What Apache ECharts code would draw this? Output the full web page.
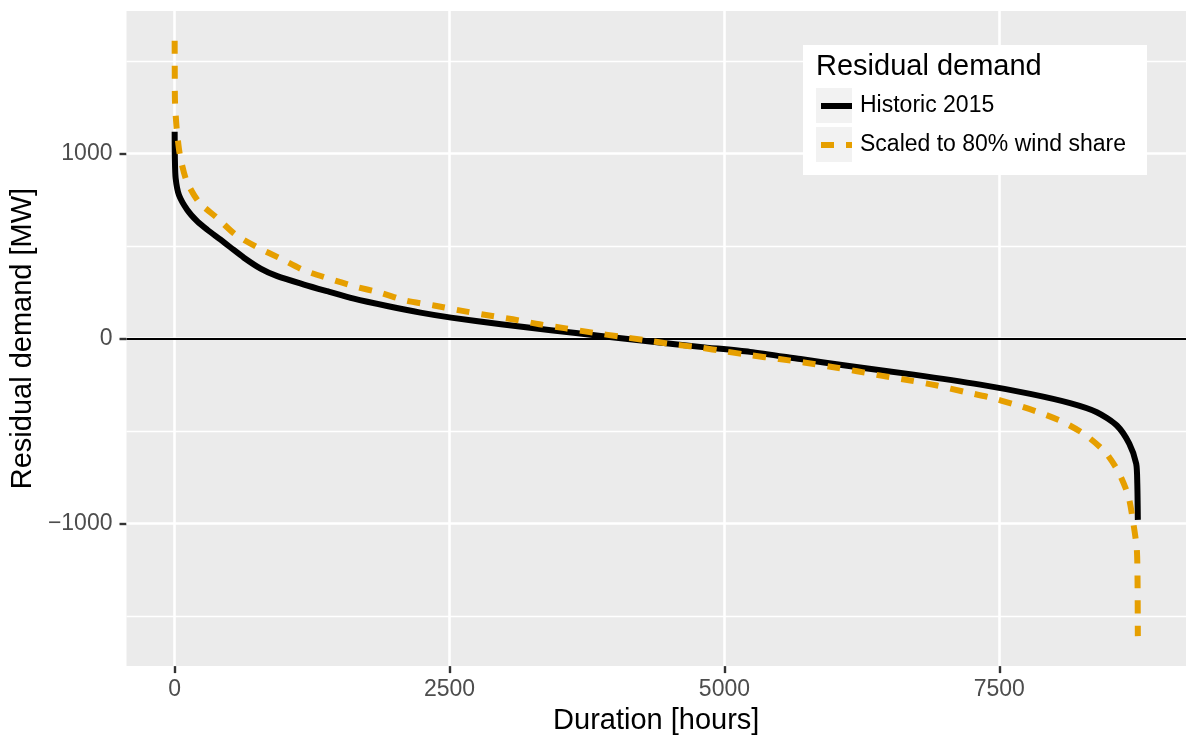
<!DOCTYPE html>
<html>
<head>
<meta charset="utf-8">
<script src="https://cdn.jsdelivr.net/npm/echarts@6.0.0/dist/echarts.min.js"></script>
<style>
  html, body { margin: 0; padding: 0; background: #fff; }
  #chart { width: 1186px; height: 740px; }
</style>
</head>
<body>
<div id="chart"></div>
<script>
// duration curves, values
const historicHours = [0, 2, 9, 39, 115, 206, 297, 418, 509, 630, 782, 933, 1176, 1388, 1630, 1933, 2236, 2514, 2968, 3422, 3876, 4325, 4779, 5233, 5692, 6117, 6722, 7327, 7781, 8144, 8387, 8569, 8682, 8745, 8755, 8760];
const historicMW = [1118, 973, 866, 776, 695, 633, 588, 534, 492, 437, 378, 337, 292, 256, 216, 176, 140, 113, 77, 45, 14, -16, -45, -72, -111, -147, -195, -249, -299, -349, -398, -470, -568, -676, -783, -980];

const scaledHours = [0, 1, 3, 18, 48, 109, 221, 388, 555, 752, 964, 1176, 1403, 1630, 1873, 2105, 2358, 2591, 2832, 3076, 3318, 3558, 3802, 4044, 4285, 4527, 4771, 5011, 5238, 5497, 5723, 5965, 6207, 6449, 6692, 6934, 7176, 7403, 7645, 7872, 8084, 8281, 8462, 8583, 8674, 8719, 8750, 8757, 8760];
const scaledMW = [1609, 1430, 1281, 1138, 991, 851, 737, 651, 561, 493, 432, 369, 324, 283, 247, 205, 179, 152, 127, 104, 77, 55, 32, 11, -9, -31, -48, -70, -90, -111, -129, -152, -177, -203, -227, -254, -287, -317, -357, -401, -452, -520, -613, -720, -851, -998, -1133, -1285, -1608];

const seriesNames = ['Historic 2015', 'Scaled to 80% wind share'];
const xTicks = [0, 2500, 5000, 7500];
const yTicks = [-1000, 0, 1000];
const yMinorLines = [-1500, -500, 500, 1500];

const zip = (xs, ys) => xs.map((x, i) => [x, ys[i]]);
const font = 'Liberation Sans, Arial, Helvetica, sans-serif';

const blackStyle = { color: '#000', width: 6, type: 'solid', cap: 'butt', join: 'round' };
const orangeStyle = { color: '#E69F00', width: 6, type: [13, 12], cap: 'butt', join: 'round' };

const chart = echarts.init(document.getElementById('chart'));

const gridLines = [].concat(
  xTicks.map(v => ({ xAxis: v, lineStyle: { color: '#fff', width: 2.6, type: 'solid' } })),
  yTicks.map(v => ({ yAxis: v, lineStyle: { color: '#fff', width: 2.6, type: 'solid' } })),
  yMinorLines.map(v => ({ yAxis: v, lineStyle: { color: '#fff', width: 1.3, type: 'solid' } })),
  [{ yAxis: 0, lineStyle: { color: '#000', width: 2, type: 'solid' } }]
);

const option = {
  animation: false,
  grid: {
    left: 125, right: 0, top: 11, bottom: 70,
    show: true, backgroundColor: '#EBEBEB', borderWidth: 0
  },
  xAxis: {
    type: 'value', min: -438, max: 9198,
    name: 'Duration [hours]', nameLocation: 'middle', nameGap: 35,
    nameTextStyle: { fontFamily: font, fontSize: 29, color: '#000' },
    axisLine: { show: false, onZero: false },
    axisTick: { show: true, customValues: xTicks, length: 7, lineStyle: { color: '#333', width: 2.4 } },
    axisLabel: {
      customValues: xTicks, margin: 12, fontFamily: font, fontSize: 23, color: '#4D4D4D',
      formatter: v => String(v)
    },
    splitLine: { show: false }
  },
  yAxis: {
    type: 'value', min: -1770, max: 1770,
    name: 'Residual demand [MW]', nameLocation: 'middle', nameGap: 88,
    nameTextStyle: { fontFamily: font, fontSize: 29, color: '#000' },
    axisLine: { show: false, onZero: false },
    axisTick: { show: true, customValues: yTicks, length: 7, lineStyle: { color: '#333', width: 2.4 } },
    axisLabel: {
      customValues: yTicks, margin: 14, fontFamily: font, fontSize: 23, color: '#4D4D4D',
      formatter: v => (v < 0 ? '\u2212' + Math.abs(v) : String(v))
    },
    splitLine: { show: false }
  },
  legend: {
    data: [
      { name: seriesNames[0], itemStyle: { opacity: 0 }, lineStyle: blackStyle },
      { name: seriesNames[1], itemStyle: { opacity: 0 }, lineStyle: orangeStyle }
    ],
    orient: 'vertical',
    left: 818, top: 94,
    padding: 0,
    itemWidth: 31, itemHeight: 24, itemGap: 15,
    selectedMode: false,
    z: 20,
    textStyle: { fontFamily: font, fontSize: 23, color: '#000', lineHeight: 24, padding: [0, 0, 0, 3] }
  },
  graphic: [
    { type: 'rect', z: 10, silent: true, shape: { x: 803, y: 45, width: 344, height: 130 }, style: { fill: '#fff' } },
    { type: 'rect', z: 11, silent: true, shape: { x: 816, y: 88, width: 36, height: 35 }, style: { fill: '#F2F2F2' } },
    { type: 'rect', z: 11, silent: true, shape: { x: 816, y: 127, width: 36, height: 35 }, style: { fill: '#F2F2F2' } },
    { type: 'text', z: 11, silent: true, style: { text: 'Residual demand', x: 816, y: 67, verticalAlign: 'middle', fontFamily: font, fontSize: 29, fill: '#000' } }
  ],
  series: [
    {
      name: seriesNames[0], type: 'line', symbol: 'none', silent: true,
      smooth: 0.25,
      data: zip(historicHours, historicMW),
      lineStyle: blackStyle,
      itemStyle: { color: '#000' },
      markLine: {
        z: 1, silent: true, symbol: ['none', 'none'], label: { show: false },
        emphasis: { disabled: true }, animation: false,
        data: gridLines
      }
    },
    {
      name: seriesNames[1], type: 'line', symbol: 'none', silent: true,
      smooth: 0.25,
      data: zip(scaledHours, scaledMW),
      lineStyle: orangeStyle,
      itemStyle: { color: '#E69F00' }
    }
  ]
};

chart.setOption(option);
</script>
</body>
</html>
